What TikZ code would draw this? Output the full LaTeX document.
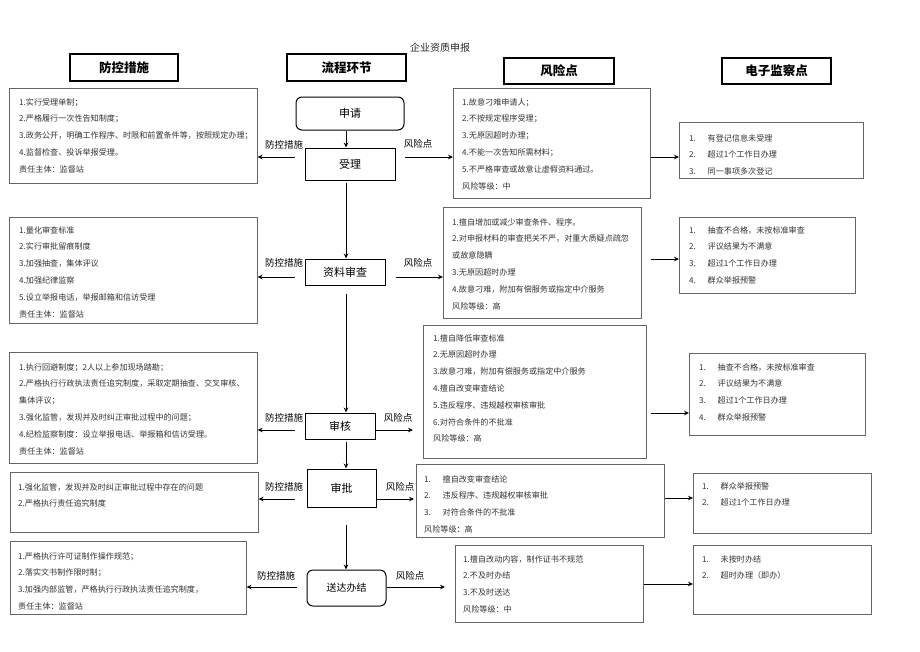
\documentclass[tikz,border=0pt]{standalone}
\usepackage{fontspec}
\usetikzlibrary{arrows.meta,shadows}
\newfontfamily\cjk{Noto Sans CJK SC}
\newcommand\numit[1]{\makebox[18.5pt][l]{#1}}

\begin{document}
\begin{tikzpicture}[x=1pt,y=-1pt,
    hdbox/.style={draw, line width=1.2pt, fill=white, inner sep=0pt,
      drop shadow={shadow xshift=1.2pt, shadow yshift=-1.2pt, opacity=0.35},
      font=\cjk\bfseries\fontsize{12.5}{14}\selectfont},
    flowbox/.style={draw, line width=1pt, inner sep=0pt, font=\cjk\fontsize{11}{13}\selectfont},
    listbox/.style={draw=black!60, line width=0.6pt, anchor=north west, inner sep=0pt},
    listtxt/.style={anchor=north west, inner sep=0pt, align=left, text=black!80,
      font=\cjk\fontsize{8.1}{16.8}\selectfont},
    lbl/.style={inner sep=0pt, font=\cjk\fontsize{9.5}{11}\selectfont},
    arr/.style={line width=1pt, -{Stealth[length=5pt,width=4.5pt]}}]

  \useasboundingbox (0,0) rectangle (920,651);

  %% title and column heads
  \node[font=\cjk\fontsize{10}{12}\selectfont, text=black!85] (title) at (440,48) {企业资质申报};
  \node[hdbox, minimum width=108pt, minimum height=27pt] (hfk) at (124,67.5) {防控措施};
  \node[hdbox, minimum width=119pt, minimum height=27pt] (hlc) at (346.5,67.5) {流程环节};
  \node[hdbox, minimum width=110pt, minimum height=26pt] (hfx) at (559,71) {风险点};
  \node[hdbox, minimum width=109pt, minimum height=26pt] (hdz) at (776.5,71) {电子监察点};

  %% process steps
  \node[flowbox, rounded corners=6pt, minimum width=108pt, minimum height=33pt] (sq) at (350,113.5) {申请};
  \node[flowbox, minimum width=90pt, minimum height=32pt] (sl) at (350,164) {受理};
  \node[flowbox, minimum width=80pt, minimum height=26pt] (zl) at (345,272) {资料审查};
  \node[flowbox, minimum width=70pt, minimum height=26pt] (sh) at (340,426) {审核};
  \node[flowbox, minimum width=69pt, minimum height=38pt] (sp) at (341.5,488) {审批};
  \node[flowbox, rounded corners=6pt, minimum width=79pt, minimum height=36pt,
    font=\cjk\fontsize{10}{12}\selectfont] (sd) at (346.5,588) {送达办结};

  \coordinate (spine) at (346,0);
  \draw[arr] (sq.south -| spine) -- (sl.north -| spine);
  \draw[arr, shorten <=2pt] (sl.south -| spine) -- (zl.north -| spine);
  \draw[arr, shorten <=8pt] (zl.south -| spine) -- (sh.north -| spine);
  \draw[arr, shorten <=2pt] (sh.south -| spine) -- (sp.north -| spine);
  \draw[arr, shorten <=17pt] (sp.south -| spine) -- (sd.north -| spine);

  %% row 1: 受理
  \node[listbox, minimum width=248pt, minimum height=95pt] (l1) at (9,88) {};
  \node[listtxt] (l1t) at (19,98) {1.实行受理单制；\\2.严格履行一次性告知制度；\\3.政务公开，明确工作程序、时限和前置条件等，按照规定办理；\\4.监督检查、投诉举报受理。\\责任主体：监督站};
  \node[listbox, minimum width=197pt, minimum height=110pt] (r1) at (453,88) {};
  \node[listtxt] (r1t) at (462,98) {1.故意刁难申请人；\\2.不按规定程序受理；\\3.无原因超时办理；\\4.不能一次告知所需材料；\\5.不严格审查或故意让虚假资料通过。\\风险等级：中};
  \node[listbox, minimum width=184pt, minimum height=56pt] (m1) at (679,122) {};
  \node[listtxt] (m1t) at (689,134) {\numit{1.}有登记信息未受理\\\numit{2.}超过1个工作日办理\\\numit{3.}同一事项多次登记};

  \coordinate (a1) at (0,157);
  \node[lbl] (fk1) at (284,145) {防控措施};
  \node[lbl] (fx1) at (418,144) {风险点};
  \draw[arr, shorten <=10pt] (sl.west |- a1) -- (l1.east |- a1);
  \draw[arr, shorten <=9pt] (sl.east |- a1) -- (r1.west |- a1);
  \draw[arr] (r1.east |- a1) -- (m1.west |- a1);

  %% row 2: 资料审查
  \node[listbox, minimum width=248pt, minimum height=106pt] (l2) at (9,217) {};
  \node[listtxt] (l2t) at (19,226) {1.量化审查标准\\2.实行审批留痕制度\\3.加强抽查，集体评议\\4.加强纪律监察\\5.设立举报电话，举报邮箱和信访受理\\责任主体：监督站};
  \node[listbox, minimum width=198pt, minimum height=111pt] (r2) at (443,207) {};
  \node[listtxt] (r2t) at (452,218) {1.擅自增加或减少审查条件、程序。\\2.对申报材料的审查把关不严，对重大质疑点疏忽\\或故意隐瞒\\3.无原因超时办理\\4.故意刁难，附加有偿服务或指定中介服务\\风险等级：高};
  \node[listbox, minimum width=176pt, minimum height=76pt] (m2) at (679,217) {};
  \node[listtxt] (m2t) at (689,226) {\numit{1.}抽查不合格，未按标准审查\\\numit{2.}评议结果为不满意\\\numit{3.}超过1个工作日办理\\\numit{4.}群众举报预警};

  \coordinate (a2) at (0,277);
  \coordinate (b2) at (0,259);
  \node[lbl] (fk2) at (284,263) {防控措施};
  \node[lbl] (fx2) at (418,263) {风险点};
  \draw[arr, shorten <=10pt] (zl.west |- a2) -- (l2.east |- a2);
  \draw[arr, shorten <=10pt] (zl.east |- a2) -- (r2.west |- a2);
  \draw[arr, shorten <=9pt] (r2.east |- b2) -- (m2.west |- b2);

  %% row 3: 审核
  \node[listbox, minimum width=248pt, minimum height=111pt] (l3) at (9,352) {};
  \node[listtxt] (l3t) at (19,363) {1.执行回避制度；2人以上参加现场踏勘；\\2.严格执行行政执法责任追究制度，采取定期抽查、交叉审核、\\集体评议；\\3.强化监管，发现并及时纠正审批过程中的问题；\\4.纪检监察制度：设立举报电话、举报箱和信访受理。\\责任主体：监督站};
  \node[listbox, minimum width=223pt, minimum height=133pt] (r3) at (423,325) {};
  \node[listtxt] (r3t) at (433,334) {1.擅自降低审查标准\\2.无原因超时办理\\3.故意刁难，附加有偿服务或指定中介服务\\4.擅自改变审查结论\\5.违反程序、违规越权审核审批\\6.对符合条件的不批准\\风险等级：高};
  \node[listbox, minimum width=176pt, minimum height=82pt] (m3) at (689,353) {};
  \node[listtxt] (m3t) at (699,363) {\numit{1.}抽查不合格，未按标准审查\\\numit{2.}评议结果为不满意\\\numit{3.}超过1个工作日办理\\\numit{4.}群众举报预警};

  \coordinate (a3) at (0,430);
  \coordinate (b3) at (0,413);
  \node[lbl] (fk3) at (284,418) {防控措施};
  \node[lbl] (fx3) at (398,418) {风险点};
  \draw[arr, shorten <=10pt] (sh.west |- a3) -- (l3.east |- a3);
  \draw[arr, shorten >=10pt] (sh.east |- a3) -- (r3.west |- a3);
  \draw[arr, shorten <=4pt] (r3.east |- b3) -- (m3.west |- b3);

  %% row 4: 审批
  \node[listbox, minimum width=248pt, minimum height=60pt] (l4) at (10,472) {};
  \node[listtxt] (l4t) at (18,483) {1.强化监管，发现并及时纠正审批过程中存在的问题\\2.严格执行责任追究制度};
  \node[listbox, minimum width=248pt, minimum height=73pt] (r4) at (416,464) {};
  \node[listtxt] (r4t) at (424,475) {\numit{1.}擅自改变审查结论\\\numit{2.}违反程序、违规越权审核审批\\\numit{3.}对符合条件的不批准\\风险等级：高};
  \node[listbox, minimum width=178pt, minimum height=60pt] (m4) at (693,473) {};
  \node[listtxt] (m4t) at (702,482) {\numit{1.}群众举报预警\\\numit{2.}超过1个工作日办理};

  \coordinate (a4) at (0,499);
  \coordinate (b4) at (0,498);
  \node[lbl] (fk4) at (284,487) {防控措施};
  \node[lbl] (fx4) at (400,487) {风险点};
  \draw[arr, shorten <=12pt] (sp.west |- a4) -- (l4.east |- a4);
  \draw[arr, shorten >=2pt] (sp.east |- a4) -- (r4.west |- a4);
  \draw[arr] (r4.east |- b4) -- (m4.west |- b4);

  %% row 5: 送达办结
  \node[listbox, minimum width=236pt, minimum height=73pt] (l5) at (10,541) {};
  \node[listtxt] (l5t) at (18,552) {1.严格执行许可证制作操作规范；\\2.落实文书制作限时制；\\3.加强内部监管，严格执行行政执法责任追究制度，\\责任主体：监督站};
  \node[listbox, minimum width=188pt, minimum height=77pt] (r5) at (455,545) {};
  \node[listtxt] (r5t) at (463,555) {1.擅自改动内容，制作证书不规范\\2.不及时办结\\3.不及时送达\\风险等级：中};
  \node[listbox, minimum width=178pt, minimum height=69pt] (m5) at (693,545) {};
  \node[listtxt] (m5t) at (702,555) {\numit{1.}未按时办结\\\numit{2.}超时办理（即办）};

  \coordinate (a5) at (0,587);
  \coordinate (b5) at (0,584);
  \node[lbl] (fk5) at (276,576) {防控措施};
  \node[lbl] (fx5) at (410,576) {风险点};
  \draw[arr, shorten <=10pt] (sd.west |- a5) -- (l5.east |- a5);
  \draw[arr, shorten >=10pt] (sd.east |- a5) -- (r5.west |- a5);
  \draw[arr] (r5.east |- b5) -- (m5.west |- b5);

\end{tikzpicture}
\end{document}
